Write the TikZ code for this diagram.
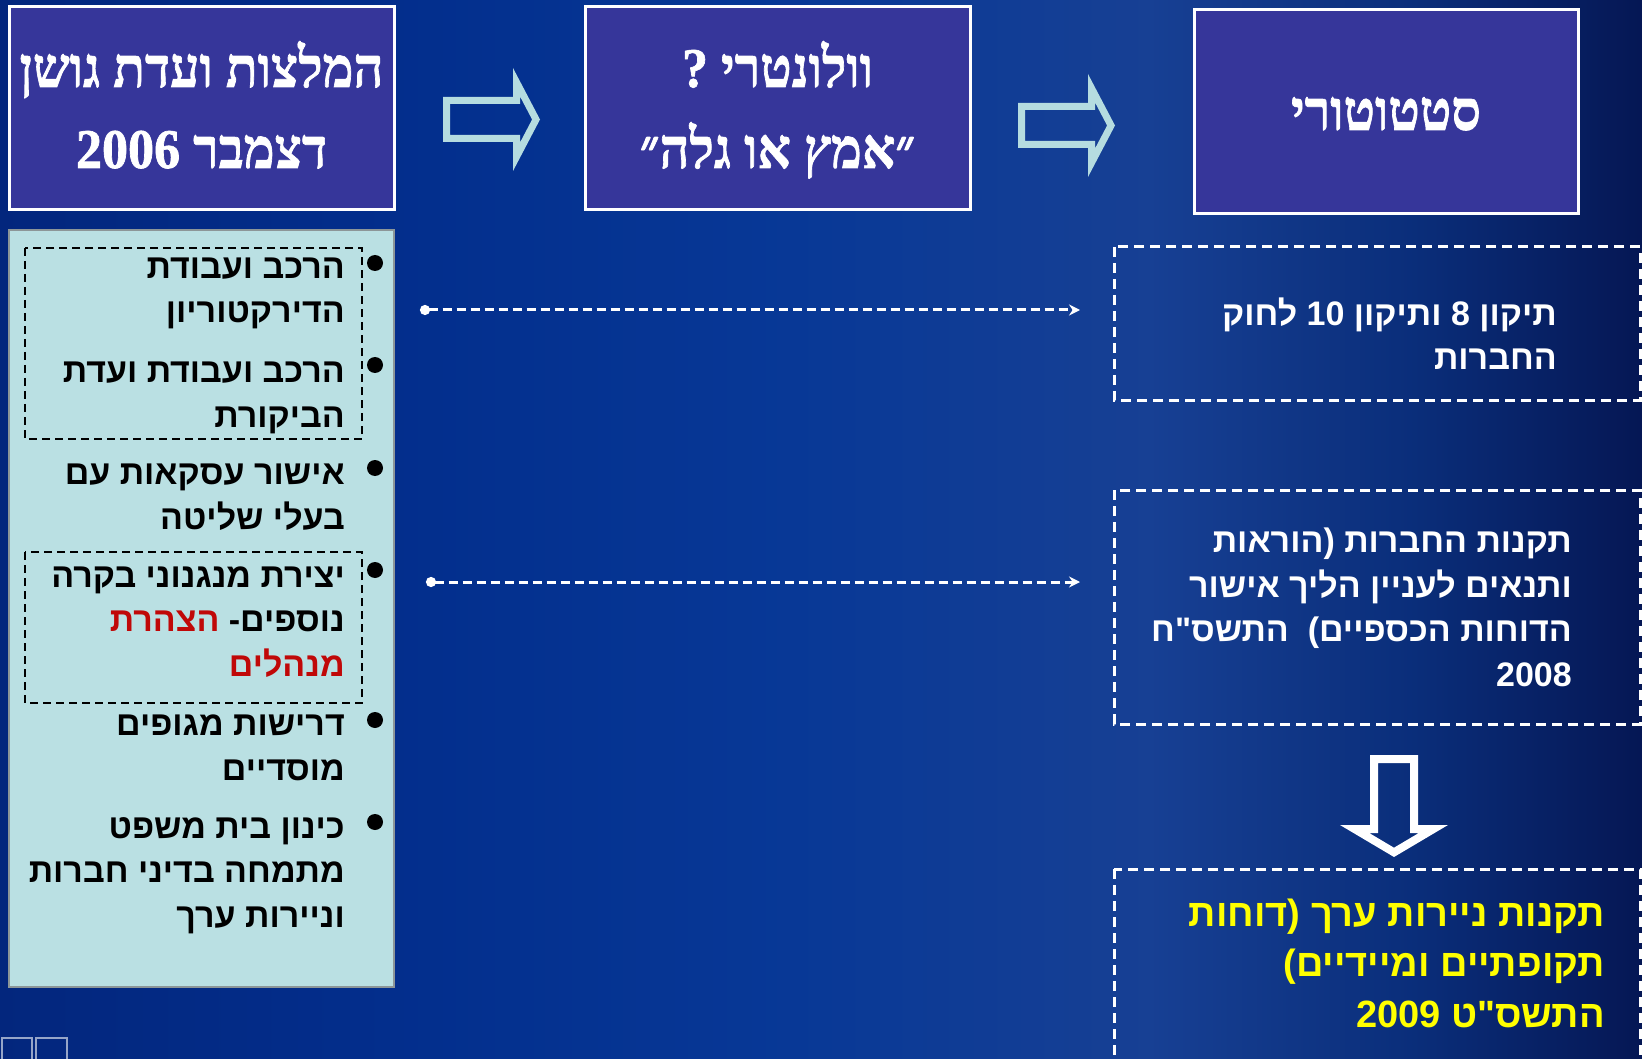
\documentclass[tikz,border=0pt]{standalone}
\usepackage{fontspec}
\setmainfont{Liberation Sans}
\newfontfamily\hebsans[Script=Hebrew]{Liberation Sans}
\newfontfamily\hebtitle[Script=Hebrew,FakeStretch=0.93,FakeBold=1.2]{Liberation Serif}
\usetikzlibrary{arrows.meta}
\TeXXeTstate=1
\newcommand{\heb}[1]{\beginR#1\endR}
\newcommand{\ltr}[1]{\beginL#1\endL{}}
\definecolor{boxfill}{RGB}{54,54,154}
\definecolor{panelfill}{RGB}{186,224,227}
\definecolor{panelborder}{RGB}{140,150,152}
\definecolor{arrowcyan}{RGB}{181,220,224}
\definecolor{hebred}{RGB}{192,8,8}
\definecolor{hebyellow}{RGB}{255,255,0}
\definecolor{squareline}{RGB}{150,165,200}
\pgfdeclarehorizontalshading{bgshade}{100bp}{rgb(0bp)=(0.01,0.15,0.49); rgb(25bp)=(0.01,0.15,0.49); rgb(37bp)=(0.01,0.18,0.55); rgb(49bp)=(0.03,0.22,0.59); rgb(60bp)=(0.09,0.25,0.58); rgb(68bp)=(0.04,0.18,0.48); rgb(75bp)=(0.02,0.09,0.33); rgb(100bp)=(0.02,0.09,0.33)}
\tikzset{
  titlebox/.style={draw=white, line width=3pt, fill=boxfill, minimum width=385pt, minimum height=203pt, inner sep=0pt},
  titletext/.style={text=white, font=\hebtitle\bfseries\fontsize{56}{82}\selectfont, inner sep=0pt, anchor=base},
  bodytext/.style={font=\hebsans\bfseries\fontsize{34}{44.5}\selectfont, align=right, anchor=base east, inner sep=0pt},
  yellowtext/.style={text=hebyellow, font=\hebsans\bfseries\fontsize{38}{50.5}\selectfont, align=right, anchor=base east, inner sep=0pt},
  bulletdot/.style={circle, fill=black, minimum size=16pt, inner sep=0pt},
  innerdash/.style={draw=black, line width=2.2pt, dash pattern=on 8pt off 5pt},
  outerdash/.style={draw=white, line width=3pt, dash pattern=on 10pt off 6pt},
  link/.style={draw=white, line width=3pt, dash pattern=on 9pt off 5pt, {Circle[length=10pt]}-{Stealth[length=11pt,width=11pt]}},
  rarrow/.pic={
    \fill[arrowcyan, even odd rule]
      (0,-22.5) -- (70,-22.5) -- (70,-51.5) -- (97,0) -- (70,51.5) -- (70,22.5) -- (0,22.5) -- cycle
      (7,-15.5) -- (77,-15.5) -- (77,-23.1) -- (89.1,0) -- (77,23.1) -- (77,15.5) -- (7,15.5) -- cycle;
  }
}
\begin{document}
\begin{tikzpicture}[x=1pt,y=-1pt]
\useasboundingbox (0,0) rectangle (1642,1059);
\clip (0,0) rectangle (1642,1059);
\shade[shading=bgshade] (0,0) rectangle (1642,1059);

% title boxes
\node[titlebox] (b1) at (201.5,108.5) {};
\node[titlebox] (b2) at (777.5,108.5) {};
\node[titlebox, minimum width=384pt, minimum height=204pt] (b3) at (1386,112) {};
\node[titletext] (t1a) at (201.5,87) {\heb{המלצות ועדת גושן}};
\node[titletext] (t1b) at (201.5,168) {\heb{דצמבר \ltr{2006}}};
\node[titletext] (t2a) at (777.5,87) {\heb{וולונטרי ?}};
\node[titletext] (t2b) at (777.5,168) {\heb{״אמץ או גלה״}};
\node[titletext] (t3) at (1386,130) {\heb{סטטוטורי}};

% block arrows
\pic at (443,119.5) {rarrow};
\pic at (1018,125.5) {rarrow};

% left panel
\node[draw=panelborder, line width=2.5pt, fill=panelfill, minimum width=385pt, minimum height=757pt, inner sep=0pt] (panel) at (201.5,608.5) {};
\draw[innerdash] (25,248) rectangle (362,439);
\draw[innerdash] (25,552) rectangle (362,703);

\node[bulletdot] (d1) at (375,263) {};
\node[bulletdot] (d2) at (375,365) {};
\node[bulletdot] (d3) at (375,468) {};
\node[bulletdot] (d4) at (375,570) {};
\node[bulletdot] (d5) at (375,720) {};
\node[bulletdot] (d6) at (375,822) {};

\node[bodytext] (i1) at (345,323) {\heb{הרכב ועבודת}\\\heb{הדירקטוריון}};
\node[bodytext] (i2) at (345,427) {\heb{הרכב ועבודת ועדת}\\\heb{הביקורת}};
\node[bodytext] (i3) at (345,529) {\heb{אישור עסקאות עם}\\\heb{בעלי שליטה}};
\node[bodytext] (i4) at (345,676) {\heb{יצירת מנגנוני בקרה}\\\textcolor{hebred}{\heb{הצהרת}} \heb{נוספים-}\\\textcolor{hebred}{\heb{מנהלים}}};
\node[bodytext] (i5) at (345,780) {\heb{דרישות מגופים}\\\heb{מוסדיים}};
\node[bodytext] (i6) at (345,927) {\heb{כינון בית משפט}\\\heb{מתמחה בדיני חברות}\\\heb{וניירות ערך}};

% right dashed boxes
\draw[outerdash] (1114,247) rectangle (1640,400);
\draw[outerdash] (1114,490) rectangle (1640,724);
\draw[outerdash] (1114,869) rectangle (1640,1075);

\node[bodytext, text=white] (ta) at (1557,370) {\heb{תיקון 8 ותיקון \ltr{10} לחוק}\\\heb{החברות}};
\node[bodytext, text=white] (tb) at (1572,686) {\heb{תקנות החברות (הוראות}\\\heb{ותנאים לעניין הליך אישור}\\\heb{הדוחות הכספיים)\ \ התשס"ח}\\\heb{\ltr{2008}}};
\node[yellowtext] (tc) at (1605,1027) {\heb{תקנות ניירות ערך (דוחות}\\\heb{תקופתיים ומיידיים)}\\\heb{התשס"ט \ltr{2009}}};

% down arrow
\fill[white, even odd rule]
  (1370,755) -- (1418,755) -- (1418,825) -- (1448,825) -- (1394,857) -- (1340,825) -- (1370,825) -- cycle
  (1378,763) -- (1410,763) -- (1410,833) -- (1418.8,833) -- (1394,847.7) -- (1369.2,833) -- (1378,833) -- cycle;

% dotted links
\coordinate (l1s) at (420,310);
\coordinate (l1e) at (1080,310);
\coordinate (l2s) at (426,582);
\coordinate (l2e) at (1080,582);
\draw[link] (l1s) -- (l1e);
\draw[link] (l2s) -- (l2e);

% small squares bottom-left
\draw[draw=squareline, line width=2pt] (2,1038) rectangle (32,1065);
\draw[draw=squareline, line width=2pt] (36,1038) rectangle (67,1065);
\end{tikzpicture}
\end{document}
